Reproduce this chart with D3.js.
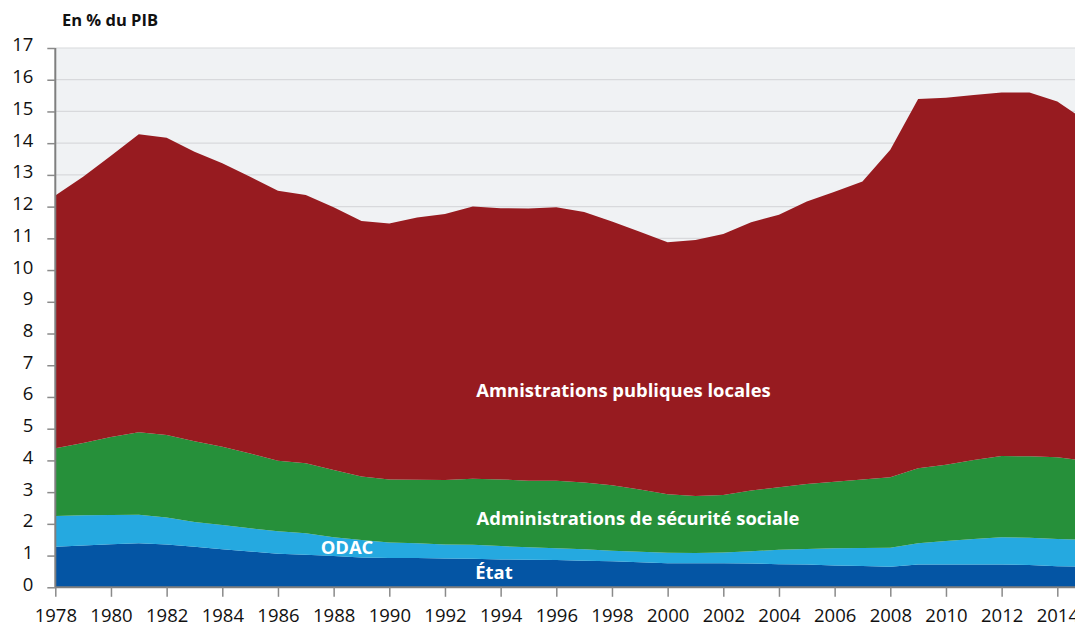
<!DOCTYPE html>
<html><head><meta charset="utf-8">
<script src="https://cdn.jsdelivr.net/npm/d3@7"></script>
<style>
html,body{margin:0;padding:0;background:#fff;overflow:hidden}
svg{display:block}
text{font-family:"Open Sans","Noto Sans",sans-serif}
</style></head>
<body>
<svg id="chart" width="1075" height="625"></svg>
<script>
const years = d3.range(1978, 2016);
// cumulative tops
const etat = [1.28,1.32,1.36,1.39,1.35,1.28,1.2,1.13,1.06,1.03,0.99,0.94,0.92,0.92,0.91,0.9,0.88,0.87,0.86,0.84,0.82,0.79,0.76,0.76,0.76,0.75,0.73,0.72,0.69,0.67,0.65,0.72,0.72,0.72,0.72,0.7,0.66,0.65];
const odacTop = [2.25,2.27,2.28,2.29,2.2,2.06,1.96,1.86,1.77,1.7,1.58,1.49,1.41,1.39,1.35,1.34,1.3,1.26,1.23,1.2,1.15,1.12,1.09,1.08,1.1,1.14,1.18,1.21,1.23,1.24,1.25,1.39,1.46,1.52,1.58,1.56,1.52,1.5];
const assoTop = [4.38,4.55,4.74,4.89,4.8,4.6,4.43,4.22,3.99,3.91,3.7,3.49,3.4,3.39,3.38,3.42,3.4,3.36,3.36,3.3,3.22,3.08,2.93,2.88,2.91,3.05,3.15,3.26,3.33,3.4,3.47,3.75,3.86,4.01,4.14,4.13,4.1,3.99];
const total = [12.35,12.94,13.6,14.28,14.17,13.73,13.37,12.94,12.5,12.37,11.98,11.55,11.47,11.66,11.77,12.0,11.95,11.94,11.98,11.83,11.53,11.21,10.88,10.95,11.14,11.51,11.74,12.16,12.47,12.79,13.79,15.39,15.43,15.52,15.6,15.6,15.31,14.72];
const yTicks = d3.range(0, 18);
const xTicks = d3.range(1978, 2015, 2);

const svg = d3.select("#chart");
const x = d3.scaleLinear().domain([1978, 2014]).range([55.3, 1057.3]);
const y = d3.scaleLinear().domain([0, 17]).range([587.3, 48]);
const W = 1075;

// plot background
svg.append("rect").attr("x", x(1978)).attr("y", y(17)).attr("width", W - x(1978)).attr("height", y(0) - y(17)).attr("fill", "#f0f2f4");
// gridlines
svg.append("g").selectAll("line").data(yTicks.filter(d => d > 0)).join("line")
  .attr("x1", x(1978)).attr("x2", W).attr("y1", d => y(d)).attr("y2", d => y(d))
  .attr("stroke", "#d8d9dc").attr("stroke-width", 1.2);

const series = [
  {lo: years.map(() => 0), hi: etat, color: "#0455a4"},
  {lo: etat, hi: odacTop, color: "#25a9e0"},
  {lo: odacTop, hi: assoTop, color: "#26903a"},
  {lo: assoTop, hi: total, color: "#971b20"}
];
const area = d3.area().x((d, i) => x(years[i])).y0(d => y(d[0])).y1(d => y(d[1]));
svg.append("g").selectAll("path").data(series).join("path")
  .attr("d", s => area(s.lo.map((v, i) => [v, s.hi[i]])))
  .attr("fill", s => s.color);

// axes
const gy = svg.append("g").attr("transform", `translate(${x(1978)},0)`)
  .call(d3.axisLeft(y).tickValues(yTicks).tickSize(8).tickPadding(14).tickFormat(d3.format("d")));
const gx = svg.append("g").attr("transform", `translate(0,${y(0)})`)
  .call(d3.axisBottom(x).tickValues(xTicks).tickSize(9.5).tickPadding(6).tickFormat(d3.format("d")));
[gy, gx].forEach(g => {
  g.select(".domain").attr("stroke", "#7f7f7f").attr("stroke-width", 2);
  g.selectAll(".tick line").attr("stroke", "#8a8a8a").attr("stroke-width", 1.5);
  g.selectAll(".tick text").attr("fill", "#111").style("font-size", "18.5px").style("font-family", "'Open Sans',sans-serif");
});
gy.selectAll(".tick text").attr("dy", "0.16em");
gx.selectAll(".tick text").attr("dy", null).attr("y", 35);
gy.select(".domain").attr("d", `M0,${y(0)}V${y(17)}`);
gx.select(".domain").attr("d", `M${x(1978)},0H${W}`);

// title
svg.append("text").attr("x", 62).attr("y", 26).text("En % du PIB")
  .attr("font-weight", 700).attr("font-size", 16.5).attr("fill", "#111");

// labels
const labels = [
  {t: "Amnistrations publiques locales", x: 623.5, y: 397},
  {t: "Administrations de sécurité sociale", x: 638, y: 525},
  {t: "ODAC", x: 347, y: 554},
  {t: "État", x: 494, y: 579}
];
svg.append("g").selectAll("text").data(labels).join("text")
  .attr("x", d => d.x).attr("y", d => d.y).attr("text-anchor", "middle")
  .attr("fill", "#fff").attr("font-weight", 700).attr("font-size", 18.4).text(d => d.t);
</script>
</body></html>
